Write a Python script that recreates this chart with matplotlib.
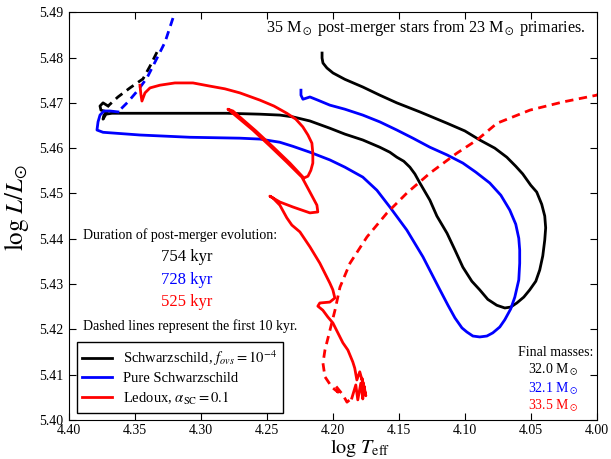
import numpy as np
import matplotlib
matplotlib.use("Agg")
from matplotlib import pyplot as plt

plt.rcParams['font.family'] = ['Liberation Serif', 'DejaVu Serif']
plt.rcParams['mathtext.fontset'] = 'stix'

# Schwarzschild + f_ovs = 1e-4 track (log Teff, log L/Lsun)
black_dash_T = [4.3335, 4.3388, 4.3441, 4.3540, 4.3631, 4.3706]
black_dash_L = [5.4812, 5.4781, 5.4753, 5.4733, 5.4713, 5.4693]
black_T = [4.3706, 4.3744, 4.3767, 4.3760, 4.3714, 4.3737, 4.3744, 4.3722,
           4.3676, 4.3312, 4.2804, 4.2554, 4.2403, 4.2304, 4.2175, 4.2024, 4.1910,
           4.1774, 4.1645, 4.1569, 4.1516, 4.1463, 4.1417, 4.1379, 4.1341, 4.1265,
           4.1212, 4.1135, 4.1075, 4.1015, 4.0947, 4.0887, 4.0826, 4.0758, 4.0697,
           4.0652, 4.0606, 4.0553, 4.0508, 4.0462, 4.0432, 4.0409, 4.0394, 4.0387,
           4.0394, 4.0417, 4.0455, 4.0500, 4.0561, 4.0614, 4.0682, 4.0773, 4.0887,
           4.1000, 4.1135, 4.1341, 4.1516, 4.1645, 4.1774, 4.1910, 4.2000, 4.2046,
           4.2076, 4.2083, 4.2083]
black_L = [5.4693, 5.4700, 5.4693, 5.4684, 5.4680, 5.4673, 5.4664, 5.4675,
           5.4677, 5.4677, 5.4677, 5.4675, 5.4673, 5.4669, 5.4660, 5.4644, 5.4631,
           5.4618, 5.4602, 5.4591, 5.4580, 5.4571, 5.4558, 5.4543, 5.4523, 5.4485,
           5.4450, 5.4412, 5.4375, 5.4337, 5.4306, 5.4287, 5.4266, 5.4253, 5.4247,
           5.4249, 5.4258, 5.4271, 5.4287, 5.4306, 5.4331, 5.4362, 5.4397, 5.4424,
           5.4450, 5.4476, 5.4503, 5.4518, 5.4543, 5.4560, 5.4580, 5.4600, 5.4618,
           5.4638, 5.4655, 5.4680, 5.4700, 5.4717, 5.4735, 5.4752, 5.4766, 5.4777,
           5.4788, 5.4799, 5.4810]

# pure Schwarzschild track
blue_dash_T = [4.3176, 4.3198, 4.3274, 4.3350, 4.3411, 4.3479, 4.3555, 4.3631]
blue_dash_L = [5.4916, 5.4901, 5.4834, 5.4790, 5.4755, 5.4728, 5.4702, 5.4680]
blue_T = [4.3631, 4.3691, 4.3737, 4.3767, 4.3782, 4.3790, 4.3744, 4.3464, 4.3085,
          4.2706, 4.2554, 4.2403, 4.2304, 4.2175, 4.2024, 4.1910, 4.1774, 4.1667,
          4.1569, 4.1440, 4.1318, 4.1189, 4.1128, 4.1075, 4.1022, 4.0985, 4.0939,
          4.0887, 4.0833, 4.0788, 4.0735, 4.0697, 4.0652, 4.0621, 4.0591, 4.0584,
          4.0584, 4.0591, 4.0614, 4.0659, 4.0727, 4.0811, 4.0917, 4.1015, 4.1135,
          4.1265, 4.1394, 4.1516, 4.1645, 4.1774, 4.1910, 4.2024, 4.2115, 4.2175,
          4.2228, 4.2243, 4.2243]
blue_L = [5.4680, 5.4682, 5.4682, 5.4673, 5.4658, 5.4640, 5.4635, 5.4629, 5.4624,
          5.4622, 5.4620, 5.4613, 5.4604, 5.4591, 5.4574, 5.4558, 5.4536, 5.4507,
          5.4470, 5.4419, 5.4360, 5.4287, 5.4253, 5.4225, 5.4203, 5.4194, 5.4185,
          5.4183, 5.4185, 5.4192, 5.4205, 5.4221, 5.4245, 5.4271, 5.4309, 5.4346,
          5.4375, 5.4401, 5.4432, 5.4463, 5.4496, 5.4523, 5.4547, 5.4567, 5.4585,
          5.4602, 5.4622, 5.4640, 5.4658, 5.4673, 5.4686, 5.4695, 5.4706, 5.4713,
          5.4708, 5.4717, 5.4728]

# Ledoux, alpha_SC = 0.1 track
red_dash_T = [3.9975, 4.0000, 4.0256, 4.0506, 4.0756, 4.0908, 4.1060, 4.1264, 4.1439,
              4.1590, 4.1742, 4.1871, 4.1947, 4.1985, 4.2023, 4.2061, 4.2076, 4.2061,
              4.2008, 4.1962, 4.1980, 4.1925, 4.1894, 4.1857]
red_dash_L = [5.4722, 5.4717, 5.4702, 5.4684, 5.4655, 5.4618, 5.4589, 5.4545, 5.4501,
              5.4457, 5.4404, 5.4346, 5.4293, 5.4242, 5.4198, 5.4154, 5.4125, 5.4095,
              5.4072, 5.4061, 5.4075, 5.4055, 5.4039, 5.4048]
red_T = [4.1857, 4.1827, 4.1812, 4.1789, 4.1774, 4.1766, 4.1751, 4.1781, 4.1759,
         4.1797, 4.1819, 4.1835, 4.1850, 4.1887, 4.1925, 4.1963, 4.2001, 4.2039,
         4.2077, 4.2115, 4.2100, 4.2024, 4.1986, 4.2001, 4.2024, 4.2100, 4.2175,
         4.2251, 4.2312, 4.2350, 4.2403, 4.2456, 4.2479, 4.2403, 4.2304, 4.2175,
         4.2115, 4.2122, 4.2175, 4.2236, 4.2350, 4.2479, 4.2608, 4.2797, 4.2759,
         4.2585, 4.2456, 4.2327, 4.2221, 4.2190, 4.2168, 4.2153, 4.2153, 4.2160,
         4.2190, 4.2229, 4.2282, 4.2350, 4.2448, 4.2554, 4.2706, 4.2820, 4.2934,
         4.3062, 4.3199, 4.3313, 4.3388, 4.3426, 4.3449, 4.3457, 4.3464]
red_L = [5.4048, 5.4077, 5.4044, 5.4081, 5.4046, 5.4075, 5.4053, 5.4092, 5.4066,
         5.4106, 5.4088, 5.4114, 5.4128, 5.4154, 5.4170, 5.4192, 5.4214, 5.4227,
         5.4242, 5.4251, 5.4258, 5.4260, 5.4269, 5.4287, 5.4302, 5.4346, 5.4382,
         5.4415, 5.4430, 5.4446, 5.4474, 5.4490, 5.4494, 5.4481, 5.4470, 5.4457,
         5.4459, 5.4474, 5.4503, 5.4536, 5.4569, 5.4605, 5.4640, 5.4686, 5.4682,
         5.4638, 5.4603, 5.4567, 5.4534, 5.4538, 5.4551, 5.4567, 5.4589, 5.4611,
         5.4629, 5.4647, 5.4664, 5.4677, 5.4693, 5.4706, 5.4722, 5.4731, 5.4737,
         5.4744, 5.4744, 5.4739, 5.4733, 5.4722, 5.4704, 5.4719, 5.4739]

durations = ["754 kyr", "728 kyr", "525 kyr"]
final_masses = ["32.0 M$_\\odot$", "32.1 M$_\\odot$", "33.5 M$_\\odot$"]
labels = ["Schwarzschild, $f_{ovs} = 10^{-4}$", "Pure Schwarzschild",
          "Ledoux, $\\alpha_{\\rm SC} = 0.1$"]
colors = ['k', 'b', 'r']

fig = plt.figure(figsize=(6.11, 4.59), dpi=100)
ax = fig.add_axes([0.1134, 0.0854, 0.8632, 0.8878])

lw = 2.0
dash = (3, 2)
tracks = [(black_dash_T, black_dash_L, black_T, black_L),
          (blue_dash_T, blue_dash_L, blue_T, blue_L),
          (red_dash_T, red_dash_L, red_T, red_L)]
for (dT, dL, sT, sL), c, lab in zip(tracks, colors, labels):
    ax.plot(dT, dL, color=c, lw=lw, ls='--', dashes=dash)
    ax.plot(sT, sL, color=c, lw=lw, label=lab, solid_joinstyle='round')

ax.set_xlim(4.40, 4.00)
ax.set_ylim(5.40, 5.49)
ax.set_xticks(np.arange(4.40, 3.999, -0.05))
ax.set_yticks(np.arange(5.40, 5.4901, 0.01))
ax.xaxis.set_major_formatter(matplotlib.ticker.FormatStrFormatter('%.2f'))
ax.yaxis.set_major_formatter(matplotlib.ticker.FormatStrFormatter('%.2f'))
ax.tick_params(direction='in', top=True, right=True, length=5, labelsize=10)
ax.tick_params(axis='x', pad=3.0)
ax.tick_params(axis='y', pad=4.5)

ax.set_xlabel(r'$\log\,T_{\rm eff}$', fontsize=14.5)
ax.set_ylabel(r'$\log\,L/L_{\odot}$', fontsize=18)
ax.xaxis.set_label_coords(0.551, -0.041)
ax.yaxis.set_label_coords(-0.072, 0.522)

ax.text(0.978, 0.961, r'35 M$_\odot$ post-merger stars from 23 M$_\odot$ primaries.',
        transform=ax.transAxes, ha='right', va='center', fontsize=11.6)

ax.text(0.026, 0.4535, 'Duration of post-merger evolution:', transform=ax.transAxes,
        ha='left', va='center', fontsize=10)
for ypos, txt, c in zip([0.399, 0.343, 0.290], durations, colors):
    ax.text(0.2226, ypos, txt, transform=ax.transAxes, ha='center', va='center',
            fontsize=12, color=c)
ax.text(0.0254, 0.230, 'Dashed lines represent the first 10 kyr.', transform=ax.transAxes,
        ha='left', va='center', fontsize=10)

ax.text(0.9936, 0.1647, 'Final masses:', transform=ax.transAxes, ha='right',
        va='center', fontsize=10)
for ypos, txt, c in zip([0.1222, 0.0773, 0.0339], final_masses, colors):
    ax.text(0.965, ypos, txt, transform=ax.transAxes, ha='right', va='center',
            fontsize=10, color=c)

leg = ax.legend(loc='lower left', fontsize=10.5, frameon=True, fancybox=False,
                edgecolor='k', framealpha=1, handlelength=2.0, labelspacing=0.3,
                borderaxespad=0.5)
leg.get_frame().set_linewidth(1.0)

fig.savefig('out.png', dpi=100)
